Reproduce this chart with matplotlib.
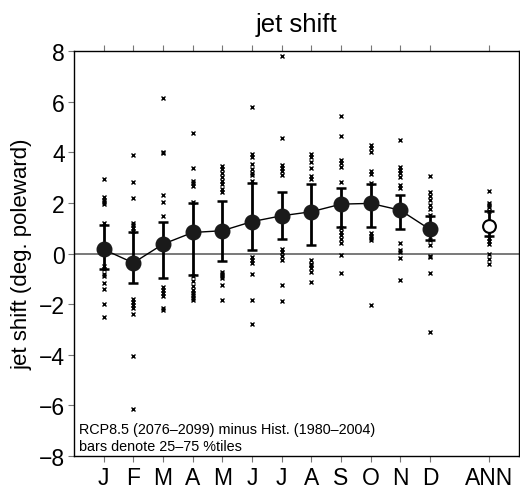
import matplotlib
matplotlib.use("Agg")
import matplotlib.pyplot as plt
import numpy as np

plt.rcParams['font.family'] = ['Liberation Sans', 'DejaVu Sans']

months = ['J', 'F', 'M', 'A', 'M', 'J', 'J', 'A', 'S', 'O', 'N', 'D']
ann_label = 'ANN'
month_pos = list(range(1, 13))
ann_pos = 14

means = [0.16, -0.37, 0.37, 0.83, 0.90, 1.26, 1.49, 1.65, 1.95, 1.98, 1.71, 0.95]
p25 = [-0.62, -1.16, -0.95, -0.86, -0.28, 0.12, 0.58, 0.34, 1.04, 1.04, 0.95, 0.54]
p75 = [1.12, 0.83, 1.24, 2.00, 2.08, 2.77, 2.42, 2.74, 2.58, 2.74, 2.32, 1.50]

ann_mean = 1.08
ann_p25 = 0.68
ann_p75 = 1.67

models = [
    [2.96, 2.24, 2.13, 2.04, 1.95, 1.22, -0.5, -0.62, -0.8, -0.88, -1.17, -1.4, -2.0, -2.5],
    [3.9, 2.83, 2.21, 1.21, 1.12, 1.0, 0.9, -1.8, -1.9, -2.02, -2.17, -2.4, -4.06, -6.14],
    [6.15, 4.0, 3.98, 2.31, 2.02, 1.5, -1.32, -1.45, -1.58, -1.67, -2.17, -2.25],
    [4.75, 3.36, 2.86, 2.77, 2.68, 2.04, -0.9, -1.1, -1.3, -1.45, -1.55, -1.65, -1.75, -1.85],
    [3.47, 3.35, 3.2, 3.03, 2.87, 2.73, 2.55, 2.44, -0.72, -0.8, -0.88, -0.98, -1.25, -1.84],
    [5.8, 3.93, 3.8, 3.55, 3.35, 3.2, 3.1, 2.86, -0.15, -0.27, -0.38, -0.82, -1.84, -2.79],
    [7.8, 4.57, 3.5, 3.38, 3.25, 3.12, 0.18, 0.05, -0.08, -0.25, -1.25, -1.88],
    [3.92, 3.8, 3.6, 3.36, 3.08, 2.93, -0.27, -0.4, -0.47, -0.57, -0.72, -1.12],
    [5.43, 4.64, 3.69, 3.56, 3.43, 2.83, 0.99, 0.86, 0.72, 0.59, 0.4, -0.05, -0.76],
    [4.28, 4.15, 4.0, 3.25, 3.15, 2.78, 0.8, 0.7, 0.62, 0.53, -2.02],
    [4.48, 3.43, 3.3, 3.17, 3.03, 2.7, 2.57, 0.43, 0.13, 0.05, -0.18, -1.05],
    [3.06, 2.42, 2.26, 2.1, 1.93, 1.77, 1.54, 0.55, 0.35, -0.08, -0.14, -0.77, -3.1],
]
ann_models = [2.45, 1.98, 1.92, 1.85, 1.68, 0.62, 0.5, 0.38, 0.0, -0.2, -0.42]

yticks = [-8, -6, -4, -2, 0, 2, 4, 6, 8]

W, H = 520, 489
fig = plt.figure(figsize=(W/100, H/100), dpi=100)
ax = fig.add_axes([74/W, 1-457/H, 445/W, 405/H])

ax.axhline(0, color='#555555', lw=1.1, zorder=1)

# model scatter
for x, vals in zip(month_pos, models):
    ax.plot([x]*len(vals), vals, 'x', color='black', ms=3.4, mew=1.0, zorder=2)
ax.plot([ann_pos]*len(ann_models), ann_models, 'x', color='black', ms=3.4, mew=1.0, zorder=2)

# connecting line
ax.plot(month_pos, means, '-', color='black', lw=1.0, zorder=3)

# error bars (25-75 %tiles)
means_a = np.array(means)
yerr = np.vstack([means_a - np.array(p25), np.array(p75) - means_a])
ax.errorbar(month_pos, means, yerr=yerr, fmt='none', ecolor='black', elinewidth=2.0,
            capsize=3.8, capthick=1.8, zorder=3)
ax.errorbar([ann_pos], [ann_mean], yerr=[[ann_mean-ann_p25], [ann_p75-ann_mean]], fmt='none',
            ecolor='black', elinewidth=2.0, capsize=3.8, capthick=1.8, zorder=3)

ax.plot(month_pos, means, 'o', color='#1a1a1a', ms=10.5, zorder=4)
ax.plot([ann_pos], [ann_mean], 'o', mfc='white', mec='black', mew=1.5, ms=9.2, zorder=4)

ax.set_xlim(0, 15)
ax.set_ylim(-8, 8)
ax.set_yticks(yticks)
ax.set_yticklabels([str(t).replace('-', '\u2212') for t in yticks])
ax.set_xticks(month_pos + [ann_pos])
ax.set_xticklabels(months + [ann_label])

ax.tick_params(axis='both', direction='out', length=4, width=0.8, color='#777777',
               labelsize=16.5, pad=2.5)
ax.tick_params(axis='x', top=True, labeltop=False, pad=3)
ax.tick_params(axis='y', right=False)
for s in ax.spines.values():
    s.set_linewidth(1.0)
    s.set_color('black')

fig.text(296.5/W, 1-31.6/H, 'jet shift', fontsize=18.5, ha='center', va='baseline')
fig.text(22/W, 1-254.5/H, 'jet shift (deg. poleward)', fontsize=16,
         rotation=90, ha='center', va='center')

ax.text(0.012, (457-434)/405, 'RCP8.5 (2076\u20132099) minus Hist. (1980\u20132004)',
        transform=ax.transAxes, fontsize=10.4, va='baseline', ha='left')
ax.text(0.012, (457-451)/405, 'bars denote 25\u201375 %tiles',
        transform=ax.transAxes, fontsize=10.4, va='baseline', ha='left')

fig.savefig('out.png', dpi=100)
